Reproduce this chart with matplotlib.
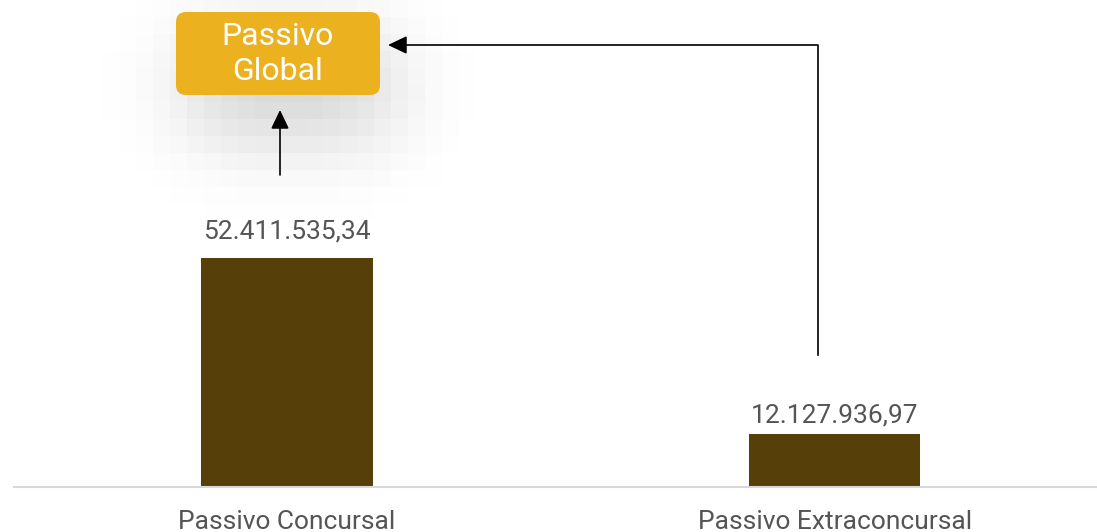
import math
import numpy as np
import matplotlib
matplotlib.use("Agg")
import matplotlib.pyplot as plt
from matplotlib.patches import FancyBboxPatch

categories = ["Passivo Concursal", "Passivo Extraconcursal"]
values = [52411535.34, 12127936.97]
value_labels = ["52.411.535,34", "12.127.936,97"]
box_label = "Passivo\nGlobal"

plt.rcParams['font.family'] = ['Roboto', 'DejaVu Sans']

W, H = 1097, 532
fig = plt.figure(figsize=(W / 100, H / 100), dpi=100)
fig.patch.set_facecolor("white")


def fx(x):
    return x / W


# shadow behind the box (blocky blur)
bs = 17
xs = np.arange(0, 640, bs) + bs / 2
ys = np.arange(0, 255, bs) + bs / 2
X, Y = np.meshgrid(xs, ys)
erf = np.vectorize(math.erf)
sig = 60.0
x0, x1, y0, y1 = 190, 390, 45, 130
ax_ = 0.5 * (erf((X - x0) / sig) - erf((X - x1) / sig))
ay_ = 0.5 * (erf((Y - y0) / sig) - erf((Y - y1) / sig))
alpha = 0.22 * ax_ * ay_
img = np.zeros((len(ys), len(xs), 4))
img[..., 3] = alpha
bg = fig.add_axes([0, 0, 1, 1])
bg.imshow(img, extent=(0, len(xs) * bs, len(ys) * bs, 0), interpolation="nearest", zorder=0)
bg.set_xlim(0, W)
bg.set_ylim(H, 0)
bg.axis("off")

# main axes
baseline = 487
px_per_val = (baseline - 258) / values[0]
ymax = baseline / px_per_val
ax = fig.add_axes([fx(14), 1 - baseline / H, 1 - fx(14), baseline / H])
ax.patch.set_alpha(0)
xpos = np.arange(len(categories))
ax.bar(xpos, values, width=0.3125, color="#573F0A", zorder=2)
ax.set_xlim(-0.4986, 1.479)
ax.set_ylim(0, ymax)
for s in ["top", "right", "left"]:
    ax.spines[s].set_visible(False)
ax.spines["bottom"].set_color("#d9d9d9")
ax.spines["bottom"].set_linewidth(1.5)
ax.set_yticks([])
ax.set_xticks([])
for x, lab in zip(xpos, categories):
    ax.annotate(lab, (x, 0), xytext=(0, -42), textcoords="offset pixels",
                ha="center", va="baseline", fontsize=19, color="#555555")
label_gaps = [20, 12]
for x, v, lab, g in zip(xpos, values, value_labels, label_gaps):
    ax.annotate(lab, (x, v), xytext=(0, g), textcoords="offset pixels",
                ha="center", va="baseline", fontsize=19, color="#555555")

# box
box = FancyBboxPatch((176, 12), 204, 83, boxstyle="round,pad=0,rounding_size=10",
                     facecolor="#EBB11E", edgecolor="none", zorder=3)
bg.add_patch(box)
bg.text(278, 54, box_label, ha="center", va="center", fontsize=23,
        color="white", linespacing=1.22, zorder=4)

# arrows
head = dict(arrowstyle="-|>,head_length=1.15,head_width=0.55", mutation_scale=10,
            color="black", lw=1.2, shrinkA=0, shrinkB=0)
bg.annotate("", xy=(280, 110), xytext=(280, 175), arrowprops=head, zorder=5)
bg.plot([818, 818, 400], [355, 45, 45], color="black", lw=1.2, zorder=5)
bg.annotate("", xy=(388, 45), xytext=(404, 45), arrowprops=head, zorder=5)

fig.savefig("out.png", dpi=100, facecolor="white")
